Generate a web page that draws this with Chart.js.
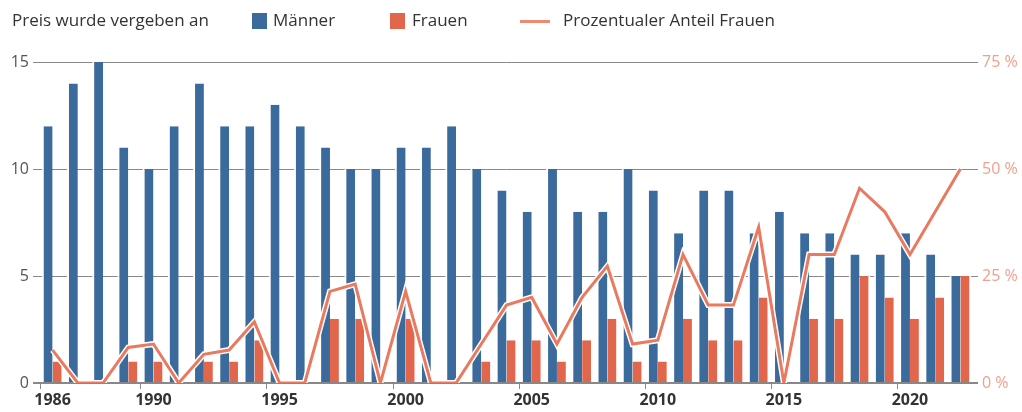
<!DOCTYPE html>
<html>
<head>
<meta charset="utf-8">
<script src="https://cdn.jsdelivr.net/npm/chart.js@4.4.0/dist/chart.umd.min.js"></script>
<style>
  html, body { margin: 0; padding: 0; background: #fff; }
  #wrap { position: relative; width: 1022px; height: 412px; }
  .lg { position: absolute; top: 8px; font-family: "Open Sans", sans-serif; font-size: 17px;
    color: #333; white-space: nowrap; line-height: 24px; }
  .box { position: absolute; top: 13px; width: 15px; height: 16px; }
  .ln { position: absolute; top: 20px; width: 30px; height: 3px; }
</style>
</head>
<body>
<div id="wrap">
  <span class="lg" style="left:12px">Preis wurde vergeben an</span>
  <i class="box" style="left:252px;background:#3b6a9c"></i>
  <span class="lg" style="left:273px">Männer</span>
  <i class="box" style="left:390px;background:#e2664b"></i>
  <span class="lg" style="left:412px">Frauen</span>
  <i class="ln" style="left:520px;background:#ec8a72"></i>
  <span class="lg" style="left:563px">Prozentualer Anteil Frauen</span>
  <canvas id="chart" width="1022" height="412"></canvas>
</div>
<script>
var years = [1986,1987,1988,1989,1990,1991,1992,1993,1994,1995,1996,1997,1998,1999,2000,2001,2002,2003,2004,2005,2006,2007,2008,2009,2010,2011,2012,2013,2014,2015,2016,2017,2018,2019,2020,2021,2022];
var maenner = [12,14,15,11,10,12,14,12,12,13,12,11,10,10,11,11,12,10,9,8,10,8,8,10,9,7,9,9,7,8,7,7,6,6,7,6,5];
var frauen = [1,0,0,1,1,0,1,1,2,0,0,3,3,0,3,0,0,1,2,2,1,2,3,1,1,3,2,2,4,0,3,3,5,4,3,4,5];
var anteil = [7.7,0,0,8.3,9.1,0,6.7,7.7,14.3,0,0,21.4,23.1,0,21.4,0,0,9.1,18.2,20,9.1,20,27.3,9.1,10,30,18.2,18.2,36.4,0,30,30,45.5,40,30,40,50];
var leftTicks = [0,5,10,15];
var rightTicks = [0,25,50,75];

function showYear(y) { return y === 1986 || y % 5 === 0; }

var ctx = document.getElementById("chart").getContext("2d");
var chart = new Chart(ctx, {
  type: "bar",
  data: {
    labels: years,
    datasets: [
      { label: "Prozentualer Anteil Frauen", type: "line", data: anteil, yAxisID: "y2",
        borderColor: "#e97a5f", borderWidth: 3, pointRadius: 0, tension: 0, order: 0 },
      { label: "halo", type: "line", data: anteil, yAxisID: "y2",
        borderColor: "#ffffff", borderWidth: 6, pointRadius: 0, tension: 0, order: 1 },
      { label: "Männer", data: maenner, backgroundColor: "#3b6a9c", yAxisID: "y",
        borderColor: "#ffffff", borderWidth: { left: 2, top: 0, right: 0, bottom: 0 },
        borderSkipped: false, categoryPercentage: 0.86, barPercentage: 1, order: 2 },
      { label: "Frauen", data: frauen, backgroundColor: "#e2664b", yAxisID: "y",
        borderColor: "#ffffff", borderWidth: { left: 0, top: 0, right: 2, bottom: 0 },
        borderSkipped: false, categoryPercentage: 0.86, barPercentage: 1, order: 2 }
    ]
  },
  options: {
    responsive: false,
    animation: false,
    layout: { padding: { top: 62, left: 0, right: 0, bottom: 0 } },
    plugins: { legend: { display: false }, tooltip: { enabled: false } },
    scales: {
      x: {
        grid: { drawOnChartArea: false, tickLength: 6,
          color: function (c) { return showYear(years[c.index]) ? "#888" : "rgba(0,0,0,0)"; } },
        border: { display: false },
        ticks: { autoSkip: false, maxRotation: 0, padding: 2, color: "#333",
          font: { family: "Open Sans", size: 16, weight: "bold" },
          callback: function (v, i) { return showYear(years[i]) ? String(years[i]) : ""; } },
        afterFit: function (s) { s.height = 29; }
      },
      y: {
        position: "left", min: 0, max: 15,
        afterBuildTicks: function (s) { s.ticks = leftTicks.map(function (v) { return { value: v }; }); },
        grid: { color: "#888", tickLength: 7,
          lineWidth: function (c) { return c.index === 0 ? 2 : 1; } },
        border: { display: false },
        ticks: { color: "#555", padding: 4, font: { family: "Open Sans", size: 16 } },
        afterFit: function (s) { s.width = 40; }
      },
      y2: {
        position: "right", min: 0, max: 75,
        afterBuildTicks: function (s) { s.ticks = rightTicks.map(function (v) { return { value: v }; }); },
        grid: { drawOnChartArea: false, tickLength: 5, color: "#888",
          lineWidth: function (c) { return c.index === 0 ? 2 : 1; } },
        border: { display: false },
        ticks: { color: "#f0a08c", padding: 4, font: { family: "Open Sans", size: 16 },
          callback: function (v) { return v + " %"; } },
        afterFit: function (s) { s.width = 49; }
      }
    }
  }
});
</script>
</body>
</html>
